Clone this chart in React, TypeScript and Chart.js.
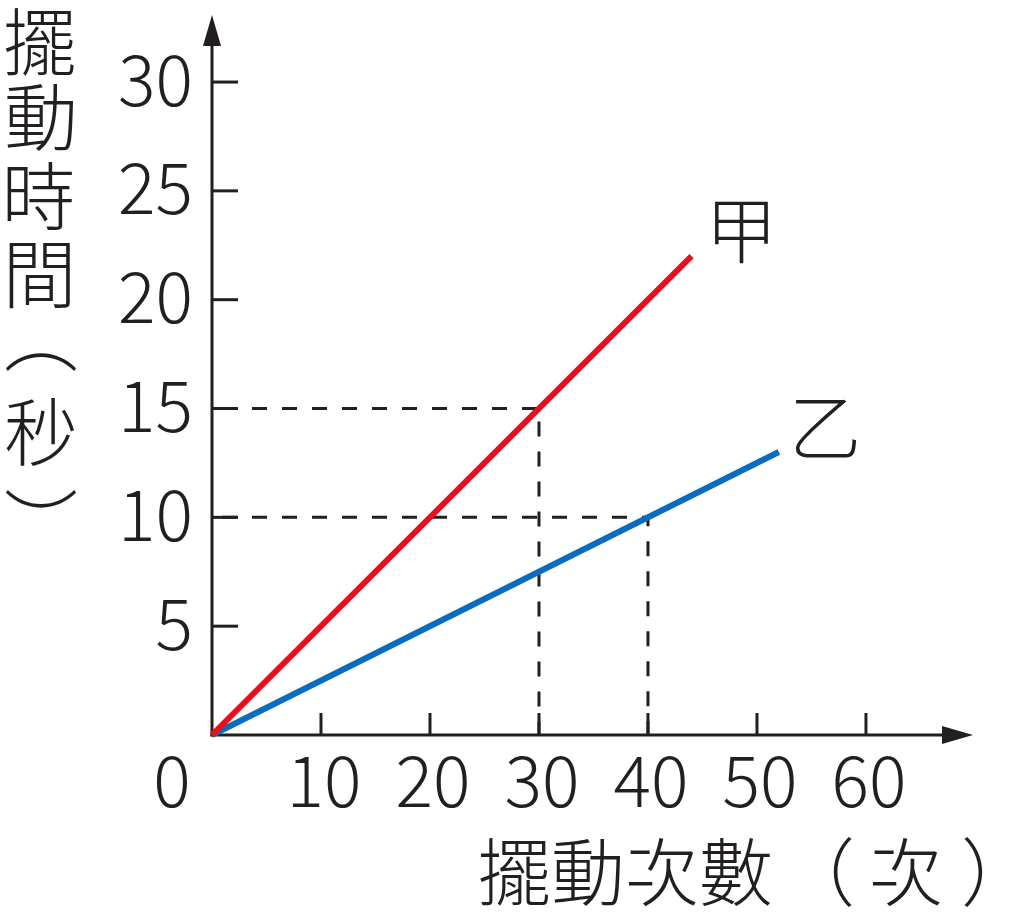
import React, { useEffect, useRef } from "react";
import { Chart, registerables } from "chart.js";

Chart.register(...registerables);

// ---- data ----
const xTickValues = [10, 20, 30, 40, 50, 60];
const yTickValues = [5, 10, 15, 20, 25, 30];
const originLabel = "0";
const seriesNames = ["甲", "乙"];
const jiaX = [0, 44];
const jiaY = [0, 22];
const yiX = [0, 52];
const yiY = [0, 13];
const guide15X = [0, 30, 30];
const guide15Y = [15, 15, 0];
const guide10X = [0, 40, 40];
const guide10Y = [10, 10, 0];
const yTitle = ["擺", "動", "時", "間", "（", "秒", "）"];
const xTitle = ["擺", "動", "次", "數", "（", "次", "）"];

const toPts = (xs: number[], ys: number[]) => xs.map((x, i) => ({ x, y: ys[i] }));

const FONT = '"Noto Sans CJK TC", "Noto Sans", sans-serif';
const RED = "#e60f1e";
const BLUE = "#0a6cbc";
const INK = "#231f20";

function inkCentered(ctx: CanvasRenderingContext2D, text: string, cx: number, cy: number) {
  ctx.textAlign = "left";
  ctx.textBaseline = "alphabetic";
  const m = ctx.measureText(text);
  const w = m.actualBoundingBoxLeft + m.actualBoundingBoxRight;
  const h = m.actualBoundingBoxAscent + m.actualBoundingBoxDescent;
  ctx.fillText(text, cx - w / 2 + m.actualBoundingBoxLeft, cy - h / 2 + m.actualBoundingBoxAscent);
}

const decorPlugin = {
  id: "decor",
  beforeDatasetsDraw(chart: any) {
    const ctx: CanvasRenderingContext2D = chart.ctx;
    const xs = chart.scales.x;
    const ys = chart.scales.y;
    const ox = xs.getPixelForValue(0);
    const oy = ys.getPixelForValue(0);
    const area = chart.chartArea;
    ctx.save();
    ctx.strokeStyle = INK;
    ctx.fillStyle = INK;
    ctx.lineWidth = 3;
    ctx.lineCap = "butt";
    ctx.beginPath();
    ctx.moveTo(ox, oy + 1.5);
    ctx.lineTo(ox, area.top + 20);
    ctx.stroke();
    ctx.beginPath();
    ctx.moveTo(ox, area.top);
    ctx.lineTo(ox - 9, area.top + 31);
    ctx.lineTo(ox + 9, area.top + 31);
    ctx.closePath();
    ctx.fill();
    ctx.beginPath();
    ctx.moveTo(ox - 1.5, oy);
    ctx.lineTo(area.right - 20, oy);
    ctx.stroke();
    ctx.beginPath();
    ctx.moveTo(area.right, oy);
    ctx.lineTo(area.right - 31, oy - 9);
    ctx.lineTo(area.right - 31, oy + 9);
    ctx.closePath();
    ctx.fill();
    ctx.restore();
  },
  afterDatasetsDraw(chart: any) {
    const ctx: CanvasRenderingContext2D = chart.ctx;
    const xs = chart.scales.x;
    const ys = chart.scales.y;
    const ox = xs.getPixelForValue(0);
    const oy = ys.getPixelForValue(0);
    ctx.save();
    ctx.strokeStyle = INK;
    ctx.fillStyle = INK;
    ctx.lineWidth = 3;
    yTickValues.forEach((v) => {
      const py = ys.getPixelForValue(v);
      ctx.beginPath();
      ctx.moveTo(ox, py);
      ctx.lineTo(ox + 26, py);
      ctx.stroke();
    });
    xTickValues.forEach((v) => {
      const px = xs.getPixelForValue(v);
      ctx.beginPath();
      ctx.moveTo(px, oy);
      ctx.lineTo(px, oy - 22);
      ctx.stroke();
    });
    // numbers
    ctx.font = `300 70px ${FONT}`;
    const asc = ctx.measureText("0").actualBoundingBoxAscent;
    ctx.textBaseline = "alphabetic";
    ctx.textAlign = "right";
    yTickValues.forEach((v) => {
      const py = ys.getPixelForValue(v);
      ctx.fillText(String(v), ox - 19, py - 2 + asc / 2);
    });
    ctx.textAlign = "center";
    xTickValues.forEach((v) => {
      const px = xs.getPixelForValue(v);
      ctx.fillText(String(v), px + 3, oy + 46 + asc / 2);
    });
    ctx.fillText(originLabel, ox - 40, oy + 46 + asc / 2);

    // titles
    ctx.font = `300 74px ${FONT}`;
    const yCenters = [41, 117, 196, 276, 362, 431, 499];
    yTitle.forEach((ch, i) => {
      if (ch === "（" || ch === "）") {
        ctx.save();
        ctx.translate(40, yCenters[i]);
        ctx.rotate(Math.PI / 2);
        inkCentered(ctx, ch, 0, 0);
        ctx.restore();
      } else {
        inkCentered(ctx, ch, 40, yCenters[i]);
      }
    });
    {
      ctx.textAlign = "left";
      ctx.textBaseline = "alphabetic";
      const m0 = ctx.measureText(xTitle[0]);
      const mAll = ctx.measureText(xTitle.join(""));
      const h = mAll.actualBoundingBoxAscent + mAll.actualBoundingBoxDescent;
      const base = 872 - h / 2 + mAll.actualBoundingBoxAscent;
      const start = 480 + m0.actualBoundingBoxLeft;
      const extra = [0, 0, 0, 0, 8, 22, 40];
      xTitle.forEach((ch, i) => {
        ctx.fillText(ch, start + i * 74 + extra[i], base);
      });
    }
    // series labels near line ends
    ctx.font = `300 72px ${FONT}`;
    const ends = [
      { x: jiaX[jiaX.length - 1], y: jiaY[jiaY.length - 1] },
      { x: yiX[yiX.length - 1], y: yiY[yiY.length - 1] },
    ];
    ends.forEach((p, i) => {
      const px = xs.getPixelForValue(p.x);
      const py = ys.getPixelForValue(p.y);
      inkCentered(ctx, seriesNames[i], px + 50 - i * 3, py - 24);
    });
    ctx.restore();
  },
};

export default function App() {
  const ref = useRef<HTMLCanvasElement | null>(null);
  useEffect(() => {
    if (!ref.current) return;
    const guideStyle = {
      borderColor: INK,
      borderWidth: 3,
      borderDash: [15, 15],
      borderDashOffset: 20,
      borderCapStyle: "butt" as const,
      pointRadius: 0,
      clip: false as any,
    };
    const chart = new Chart(ref.current, {
      type: "line",
      data: {
        datasets: [
          {
            label: seriesNames[0],
            data: toPts(jiaX, jiaY),
            borderColor: RED,
            borderWidth: 6,
            borderCapStyle: "butt",
            pointRadius: 0,
            clip: false as any,
          },
          {
            label: seriesNames[1],
            data: toPts(yiX, yiY),
            borderColor: BLUE,
            borderWidth: 6,
            borderCapStyle: "butt",
            pointRadius: 0,
            clip: false as any,
          },
          { label: "g15", data: toPts(guide15X, guide15Y), ...guideStyle },
          { label: "g10", data: toPts(guide10X, guide10Y), ...guideStyle },
        ],
      },
      options: {
        animation: false,
        responsive: false,
        devicePixelRatio: 1,
        layout: { padding: { left: 212, right: 51, top: 15, bottom: 178 } },
        plugins: { legend: { display: false }, tooltip: { enabled: false } },
        elements: { line: { tension: 0 } },
        scales: {
          x: { type: "linear", min: 0, max: 69.82, display: false },
          y: { type: "linear", min: 0, max: 33.08, display: false },
        },
      },
      plugins: [decorPlugin as any],
    });
    return () => chart.destroy();
  }, []);
  return (
    <div style={{ position: "fixed", left: 0, top: 0, width: 1024, height: 913, background: "#fff" }}>
      <canvas ref={ref} width={1024} height={913} style={{ display: "block" }} />
    </div>
  );
}
